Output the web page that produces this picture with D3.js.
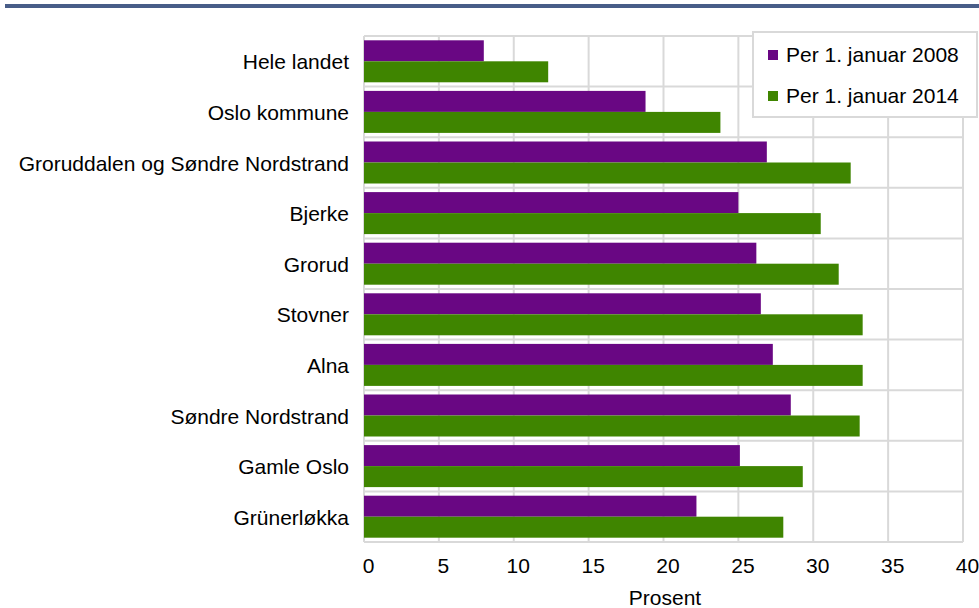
<!DOCTYPE html>
<html>
<head>
<meta charset="utf-8">
<script src="https://cdn.jsdelivr.net/npm/d3@7"></script>
<style>
  body { margin: 0; background: #fff; }
  svg { display: block; font-family: "Liberation Sans", Arial, sans-serif; }
</style>
</head>
<body>
<div id="chart"></div>
<script>
// data
var categories = ["Hele landet", "Oslo kommune", "Groruddalen og Søndre Nordstrand", "Bjerke",
  "Grorud", "Stovner", "Alna", "Søndre Nordstrand", "Gamle Oslo", "Grünerløkka"];
var values2008 = [8.0, 18.8, 26.9, 25.0, 26.2, 26.5, 27.3, 28.5, 25.1, 22.2];
var values2014 = [12.3, 23.8, 32.5, 30.5, 31.7, 33.3, 33.3, 33.1, 29.3, 28.0];
var seriesNames = ["Per 1. januar 2008", "Per 1. januar 2014"];
var xTicks = [0, 5, 10, 15, 20, 25, 30, 35, 40];

var config = {
  width: 979, height: 608,
  left: 364, right: 963, top: 36, bottom: 542,
  barHeight: 21,
  fontSize: "21px",
  colors: ["#690783", "#3f8500"],
  grid: "#d9d9d9"
};

var svg = d3.select("#chart").append("svg")
  .attr("width", config.width)
  .attr("height", config.height);

// top rule
svg.append("rect")
  .attr("x", 5).attr("y", 4)
  .attr("width", config.width - 5).attr("height", 4)
  .attr("fill", "#485d88");

var x = d3.scaleLinear().domain([0, 40]).range([config.left, config.right]);
var y = d3.scaleBand().domain(categories).range([config.top, config.bottom]);

// grid
var grid = svg.append("g").attr("stroke", config.grid).attr("stroke-width", 2);
grid.selectAll("line.v").data(xTicks).enter().append("line")
  .attr("class", "v")
  .attr("x1", function(d) { return x(d); }).attr("x2", function(d) { return x(d); })
  .attr("y1", config.top).attr("y2", config.bottom);
grid.selectAll("line.h").data(categories.concat(["_end"])).enter().append("line")
  .attr("class", "h")
  .attr("x1", config.left).attr("x2", config.right)
  .attr("y1", function(d, i) { return config.top + i * y.step(); })
  .attr("y2", function(d, i) { return config.top + i * y.step(); });

// bars
var rows = categories.map(function(c, i) { return {cat: c, v: [values2008[i], values2014[i]]}; });
var groups = svg.selectAll("g.row").data(rows).enter().append("g")
  .attr("class", "row")
  .attr("transform", function(d) {
    return "translate(0," + (y(d.cat) + (y.step() - 2 * config.barHeight) / 2) + ")";
  });
groups.selectAll("rect").data(function(d) { return d.v; }).enter().append("rect")
  .attr("x", x(0))
  .attr("y", function(d, i) { return i * config.barHeight; })
  .attr("width", function(d) { return x(d) - x(0); })
  .attr("height", config.barHeight)
  .attr("fill", function(d, i) { return config.colors[i]; });

// category labels
svg.selectAll("text.cat").data(categories).enter().append("text")
  .attr("class", "cat")
  .attr("x", 349)
  .attr("y", function(d) { return y(d) + y.step() / 2 + 8; })
  .attr("text-anchor", "end")
  .attr("font-size", config.fontSize)
  .attr("fill", "#000")
  .text(function(d) { return d; });

// x axis
var xAxis = d3.axisBottom(x).tickValues(xTicks).tickSize(0).tickPadding(16);
var ax = svg.append("g")
  .attr("transform", "translate(4," + config.bottom + ")")
  .call(xAxis);
ax.select(".domain").remove();
ax.selectAll("text")
  .attr("font-size", config.fontSize)
  .attr("font-family", "Liberation Sans, Arial, sans-serif")
  .attr("fill", "#000");

svg.append("text")
  .attr("x", 665).attr("y", 605)
  .attr("text-anchor", "middle")
  .attr("font-size", config.fontSize)
  .text("Prosent");

// legend
var legend = svg.append("g").attr("transform", "translate(753,32)");
legend.append("rect")
  .attr("width", 224).attr("height", 85)
  .attr("fill", "#fff")
  .attr("stroke", config.grid).attr("stroke-width", 2);
var items = legend.selectAll("g.item").data(seriesNames).enter().append("g")
  .attr("class", "item")
  .attr("transform", function(d, i) { return "translate(15," + (30 + i * 41) + ")"; });
items.append("rect")
  .attr("x", 0).attr("y", -12)
  .attr("width", 10).attr("height", 10)
  .attr("fill", function(d, i) { return config.colors[i]; });
items.append("text")
  .attr("x", 18).attr("y", 0)
  .attr("font-size", config.fontSize)
  .text(function(d) { return d; });
</script>
</body>
</html>
